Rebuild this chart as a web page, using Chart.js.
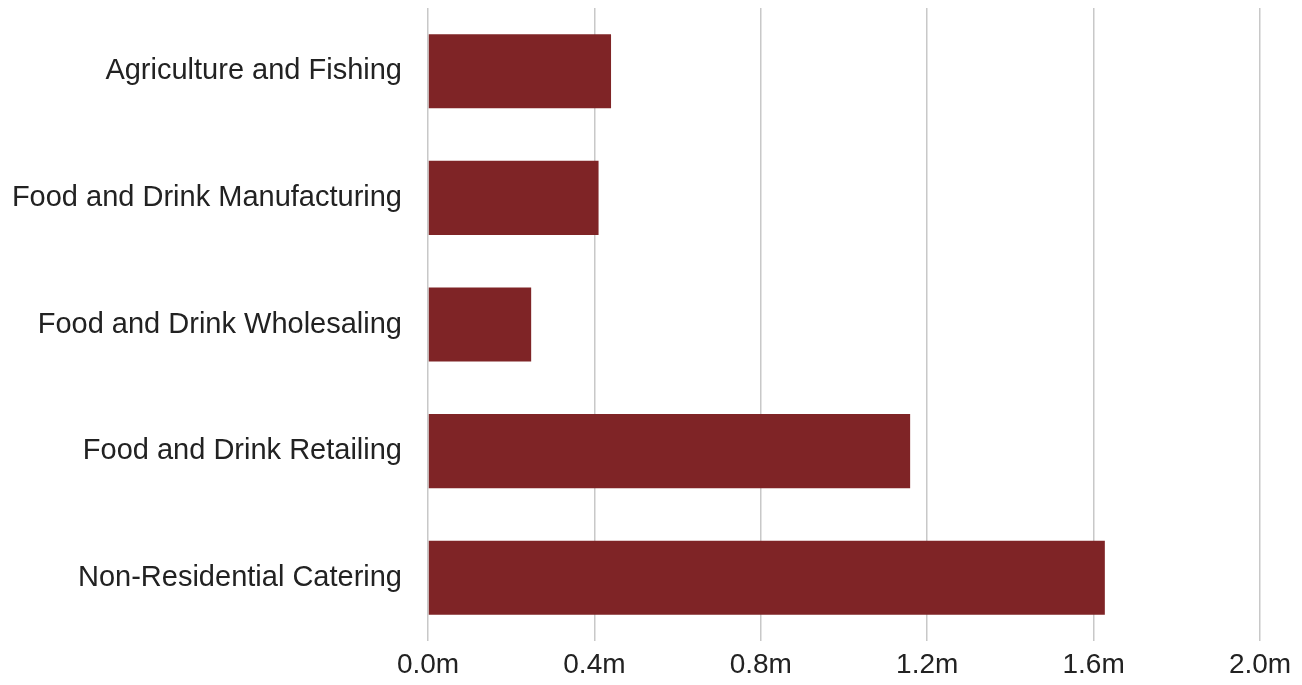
<!DOCTYPE html>
<html>
<head>
<meta charset="utf-8">
<script src="https://cdn.jsdelivr.net/npm/chart.js@4"></script>
<style>
  html, body { margin: 0; padding: 0; background: #fff; }
  #wrap { width: 1302px; height: 685px; }
</style>
</head>
<body>
<div id="wrap"><canvas id="chart"></canvas></div>
<script>
// sectors and employment (millions)
const categories = [
    "Agriculture and Fishing",
    "Food and Drink Manufacturing",
    "Food and Drink Wholesaling",
    "Food and Drink Retailing",
    "Non-Residential Catering"
];
const values = [0.44, 0.41, 0.248, 1.159, 1.627];
const tickValues = [0, 0.4, 0.8, 1.2, 1.6, 2.0];

const fontFamily = "'Liberation Sans', Arial, Helvetica, sans-serif";

const chart = new Chart(document.getElementById('chart'), {
    type: 'bar',
    data: {
        labels: categories,
        datasets: [{
            data: values,
            backgroundColor: '#7f2426',
            borderWidth: 0,
            barPercentage: 0.585,
            categoryPercentage: 1
        }]
    },
    options: {
        indexAxis: 'y',
        responsive: true,
        maintainAspectRatio: false,
        animation: false,
        layout: { padding: { left: 0, right: 42, top: 8, bottom: 0 } },
        plugins: {
            legend: { display: false },
            tooltip: { enabled: false }
        },
        scales: {
            x: {
                min: 0,
                max: 2,
                afterBuildTicks: (scale) => {
                    scale.ticks = tickValues.map(v => ({ value: v }));
                },
                afterFit: (scale) => {
                    scale.height = 44;
                    scale.paddingLeft = 0;
                    scale.paddingRight = 0;
                },
                ticks: {
                    color: '#222',
                    padding: 7,
                    font: { family: fontFamily, size: 28 },
                    callback: (v) => v.toFixed(1) + 'm'
                },
                grid: { color: '#c8c8c8', lineWidth: 1.5, drawTicks: false },
                border: { display: false }
            },
            y: {
                afterFit: (scale) => {
                    scale.width = 428;
                    scale.paddingTop = 0;
                    scale.paddingBottom = 0;
                },
                ticks: {
                    color: '#222',
                    padding: 26,
                    font: { family: fontFamily, size: 29 }
                },
                grid: { display: false, drawTicks: false },
                border: { display: false }
            }
        }
    }
});
</script>
</body>
</html>
